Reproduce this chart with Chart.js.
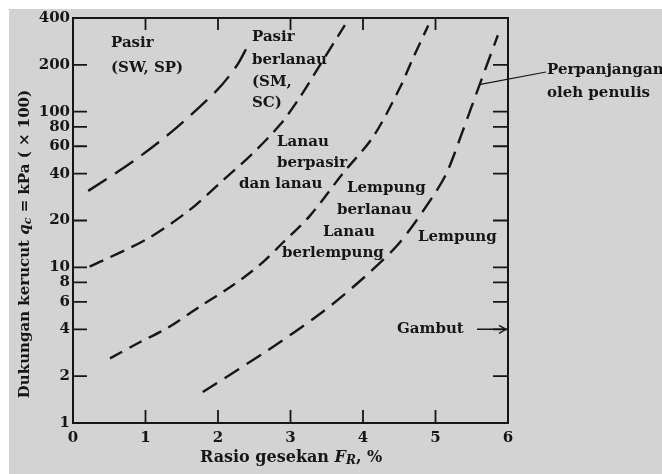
<!DOCTYPE html>
<html>
<head>
<meta charset="utf-8">
<script src="https://cdn.jsdelivr.net/npm/chart.js@4.4.1/dist/chart.umd.min.js"></script>
<style>
  html, body { margin: 0; padding: 0; background: #fff; }
  #wrap { position: relative; width: 662px; height: 474px; overflow: hidden; }
  #kertas { position: absolute; left: 9px; top: 9px; right: 0; bottom: 0; background: #d3d3d3; }
  #grafik { position: absolute; left: 0; top: 0; }
</style>
</head>
<body>
<div id="wrap"><div id="kertas"></div><canvas id="grafik" width="662" height="474"></canvas></div>
<script>
// 1) Data grafik: rasio gesekan (%) vs dukungan kerucut (kPa x 100)
const tickX = [0, 1, 2, 3, 4, 5, 6];
const tickY = [1, 2, 4, 6, 8, 10, 20, 40, 60, 80, 100, 200, 400];

// batas Pasir / Pasir berlanau
const garis1X = [0.21, 0.83, 1.40, 1.99, 2.26, 2.41];
const garis1Y = [31, 48, 77, 138, 198, 265];
// batas Pasir berlanau / Lanau berpasir
const garis2X = [0.23, 1.02, 1.61, 2.07, 2.48, 2.86, 3.13, 3.45, 3.75];
const garis2Y = [10.1, 15.2, 23.4, 36.3, 54, 83, 124, 215, 360];
// batas Lanau berpasir / Lempung berlanau
const garis3X = [0.51, 0.92, 1.30, 1.75, 2.21, 2.58, 2.90, 3.27, 3.72, 4.14, 4.51, 4.69, 4.90];
const garis3Y = [2.6, 3.3, 4.07, 5.6, 7.7, 10.4, 14.5, 21.5, 40, 69, 143, 221, 358];
// batas Lempung berlanau / Lempung (bagian atas = perpanjangan)
const garis4X = [1.79, 2.68, 3.45, 4.06, 4.51, 4.97, 5.16, 5.37, 5.61, 5.86];
const garis4Y = [1.58, 2.92, 5.2, 9.0, 14.5, 28.8, 41, 74, 150, 310];

const TINTA = "#161616";
const HURUF = "'DejaVu Serif', 'Liberation Serif', serif";

// 2) Keterangan zona (posisi dalam piksel kanvas)
const catatan = [
  ["Pasir", 111, 43], ["(SW, SP)", 111, 68],
  ["Pasir", 252, 37], ["berlanau", 252, 60], ["(SM,", 252, 82], ["SC)", 252, 103],
  ["Lanau", 277, 142], ["berpasir", 277, 163], ["dan lanau", 239, 184],
  ["Lempung", 347, 188], ["berlanau", 337, 210], ["Lanau", 323, 232], ["berlempung", 282, 253],
  ["Lempung", 418, 237],
  ["Gambut", 397, 329],
  ["Perpanjangan", 547, 70], ["oleh penulis", 547, 93],
];

function seri(xs, ys) {
  return xs.map((x, i) => ({ x: x, y: ys[i] }));
}

function garis(xs, ys, dash) {
  return {
    data: seri(xs, ys),
    showLine: true,
    borderColor: TINTA,
    borderWidth: 2.4,
    borderDash: dash,
    borderCapStyle: "butt",
    pointRadius: 0,
    tension: 0.3,
    fill: false,
  };
}

// teks campuran (biasa / miring / subskrip), mulai dari x0
function tulisCampur(ctx, bagian, x0, y0) {
  let x = x0;
  bagian.forEach((b) => {
    ctx.font = b.f;
    ctx.fillText(b.t, x, y0 + (b.dy || 0));
    x += ctx.measureText(b.t).width;
  });
}

function lebarCampur(ctx, bagian) {
  let w = 0;
  bagian.forEach((b) => {
    ctx.font = b.f;
    w += ctx.measureText(b.t).width;
  });
  return w;
}

// 3) Plugin: bingkai, tik ke dalam, keterangan, judul sumbu
const bingkai = {
  id: "bingkai",
  afterDraw(chart) {
    const { ctx, chartArea: a, scales } = chart;
    const sx = scales.x, sy = scales.y;
    ctx.save();
    ctx.strokeStyle = TINTA;
    ctx.fillStyle = TINTA;

    // bingkai
    ctx.lineWidth = 2;
    ctx.strokeRect(a.left, a.top, a.right - a.left, a.bottom - a.top);

    // tik ke dalam
    ctx.lineWidth = 1.8;
    ctx.beginPath();
    tickX.slice(1, -1).forEach((v) => {
      const px = sx.getPixelForValue(v);
      ctx.moveTo(px, a.bottom); ctx.lineTo(px, a.bottom - 13);
      ctx.moveTo(px, a.top); ctx.lineTo(px, a.top + 12);
    });
    tickY.slice(1, -1).forEach((v) => {
      const py = sy.getPixelForValue(v);
      ctx.moveTo(a.left, py); ctx.lineTo(a.left + 14, py);
      ctx.moveTo(a.right, py); ctx.lineTo(a.right - 15, py);
    });
    ctx.stroke();

    // keterangan zona
    ctx.font = "bold 15px " + HURUF;
    ctx.textAlign = "left";
    ctx.textBaseline = "middle";
    catatan.forEach(([t, x, y]) => ctx.fillText(t, x, y));

    // garis penunjuk "Perpanjangan oleh penulis"
    ctx.lineWidth = 1.2;
    ctx.beginPath();
    ctx.moveTo(sx.getPixelForValue(5.62), sy.getPixelForValue(150));
    ctx.lineTo(546, 72);
    ctx.stroke();

    // panah Gambut ke sumbu kanan
    const yg = sy.getPixelForValue(4);
    ctx.lineWidth = 1.4;
    ctx.beginPath();
    ctx.moveTo(477, yg); ctx.lineTo(a.right - 2, yg);
    ctx.moveTo(a.right - 9, yg - 4); ctx.lineTo(a.right - 2, yg); ctx.lineTo(a.right - 9, yg + 4);
    ctx.stroke();

    // judul sumbu x
    const biasaX = "bold 16px " + HURUF;
    const miringX = "italic bold 16px " + HURUF;
    const kecilX = "italic bold 12px " + HURUF;
    ctx.textBaseline = "middle";
    const judulX = [
      { t: "Rasio gesekan ", f: biasaX },
      { t: "F", f: miringX },
      { t: "R", f: kecilX, dy: 3 },
      { t: ", %", f: biasaX },
    ];
    tulisCampur(ctx, judulX, 200, 458);

    // judul sumbu y (diputar)
    const biasa = "bold 15px " + HURUF;
    const miring = "italic bold 15px " + HURUF;
    const kecil = "italic bold 11px " + HURUF;
    const judulY = [
      { t: "Dukungan kerucut ", f: biasa },
      { t: "q", f: miring },
      { t: "c", f: kecil, dy: 3 },
      { t: " = kPa ( \u00d7 100)", f: biasa },
    ];
    const w = lebarCampur(ctx, judulY);
    ctx.translate(25, 244);
    ctx.rotate(-Math.PI / 2);
    tulisCampur(ctx, judulY, -w / 2, 0);
    ctx.restore();
  },
};

// 4) Grafik
const hurufTik = { family: HURUF, size: 15, weight: "bold" };

new Chart(document.getElementById("grafik").getContext("2d"), {
  type: "scatter",
  data: {
    datasets: [
      garis(garis1X, garis1Y, [22, 10]),
      garis(garis2X, garis2Y, [15, 8]),
      garis(garis3X, garis3Y, [14, 8]),
      garis(garis4X, garis4Y, [17, 9]),
    ],
  },
  options: {
    responsive: false,
    animation: false,
    events: [],
    layout: { padding: { top: 18, right: 154, left: 0, bottom: 0 } },
    plugins: {
      legend: { display: false },
      tooltip: { enabled: false },
    },
    scales: {
      x: {
        type: "linear",
        min: 0,
        max: 6,
        afterBuildTicks: (s) => { s.ticks = tickX.map((v) => ({ value: v })); },
        afterFit: (s) => { s.height = 51; },
        grid: { display: false, drawTicks: false },
        border: { display: false },
        ticks: { padding: 6, color: TINTA, font: hurufTik, autoSkip: false, maxRotation: 0 },
      },
      y: {
        type: "logarithmic",
        min: 1,
        max: 400,
        afterBuildTicks: (s) => { s.ticks = tickY.map((v) => ({ value: v })); },
        afterFit: (s) => { s.width = 73; },
        grid: { display: false, drawTicks: false },
        border: { display: false },
        ticks: {
          padding: 3,
          color: TINTA,
          font: hurufTik,
          autoSkip: false,
          callback: (v) => String(v),
        },
      },
    },
  },
  plugins: [bingkai],
});
</script>
</body>
</html>
